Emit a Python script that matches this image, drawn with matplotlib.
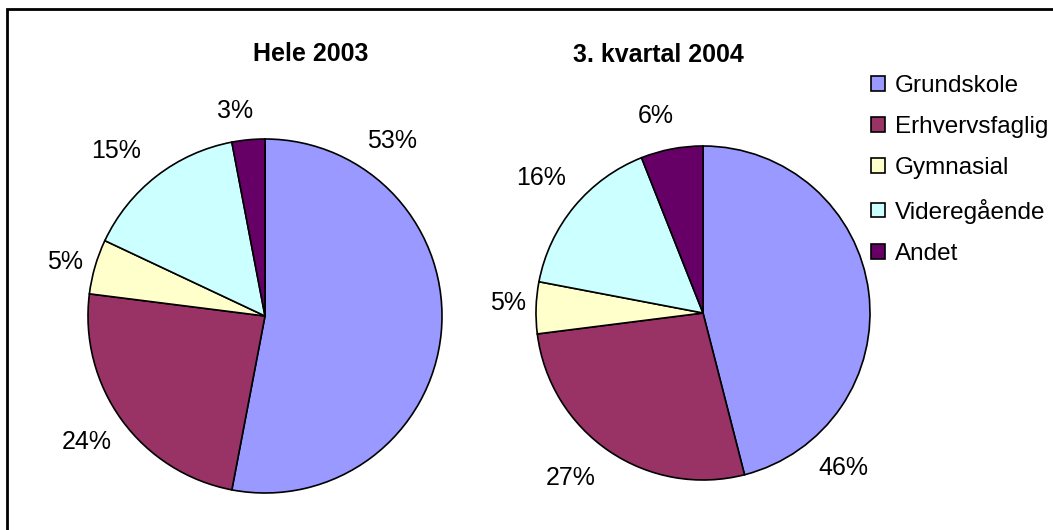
import matplotlib.pyplot as plt
from matplotlib.patches import Rectangle

plt.rcParams["font.family"] = ["Liberation Sans", "DejaVu Sans"]

CATEGORIES = ["Grundskole", "Erhvervsfaglig", "Gymnasial", "Videregående", "Andet"]
COLORS = ["#9999FF", "#993366", "#FFFFCC", "#CCFFFF", "#660066"]

TITLE_2003 = "Hele 2003"
SHARE_2003 = [53, 24, 5, 15, 3]
TITLE_2004 = "3. kvartal 2004"
SHARE_2004 = [46, 27, 5, 16, 6]

# label positions in units of pie radius (Excel "best fit" placement)
LABELS_2003 = [(0.72, 0.99), (-1.006, -0.71), (-1.13, 0.305), (-0.84, 0.93), (-0.17, 1.16)]
LABELS_2004 = [(0.84, -0.93), (-0.79, -0.99), (-1.17, 0.06), (-0.97, 0.81), (-0.285, 1.18)]

W, H = 1053, 530
FS = 18
LEGEND_FS = 17.5


def pie_axes(fig, cx, cy, r):
    return fig.add_axes([(cx - r) / W, (H - cy - r) / H, 2 * r / W, 2 * r / H])


def draw_pie(ax, shares, label_pos, title, title_xy):
    ax.pie(shares, colors=COLORS, startangle=90, counterclock=False,
           wedgeprops=dict(edgecolor="black", linewidth=1.2))
    ax.set_xlim(-1, 1)
    ax.set_ylim(-1, 1)
    ax.set_aspect("auto")
    ax.axis("off")
    for v, (x, y) in zip(shares, label_pos):
        ax.text(x, y, f"{v}%", ha="center", va="center", fontsize=FS)
    fig.text(title_xy[0] / W, 1 - title_xy[1] / H, title, ha="center", va="center",
             fontsize=FS, fontweight="bold")


fig = plt.figure(figsize=(W / 100, H / 100), dpi=100)
fig.patches.append(Rectangle((7 / W, -0.1), 1.2, 1 - 9 / H + 0.1, transform=fig.transFigure,
                             fill=False, edgecolor="black", linewidth=2))

ax1 = pie_axes(fig, 265, 316, 177)
draw_pie(ax1, SHARE_2003, LABELS_2003, TITLE_2003, (311, 54))
ax2 = pie_axes(fig, 703, 313, 167)
draw_pie(ax2, SHARE_2004, LABELS_2004, TITLE_2004, (658, 55))

handles = [Rectangle((0, 0), 1, 1, facecolor=c, edgecolor="black", linewidth=1.2) for c in COLORS]
fig.legend(handles, CATEGORIES, loc="upper left", bbox_to_anchor=(871 / W, 1 - 75 / H),
           frameon=False, fontsize=LEGEND_FS, handlelength=0.57, handleheight=0.57,
           handletextpad=0.4, labelspacing=0.79, borderaxespad=0, borderpad=0)

fig.savefig("out.png", dpi=100)
